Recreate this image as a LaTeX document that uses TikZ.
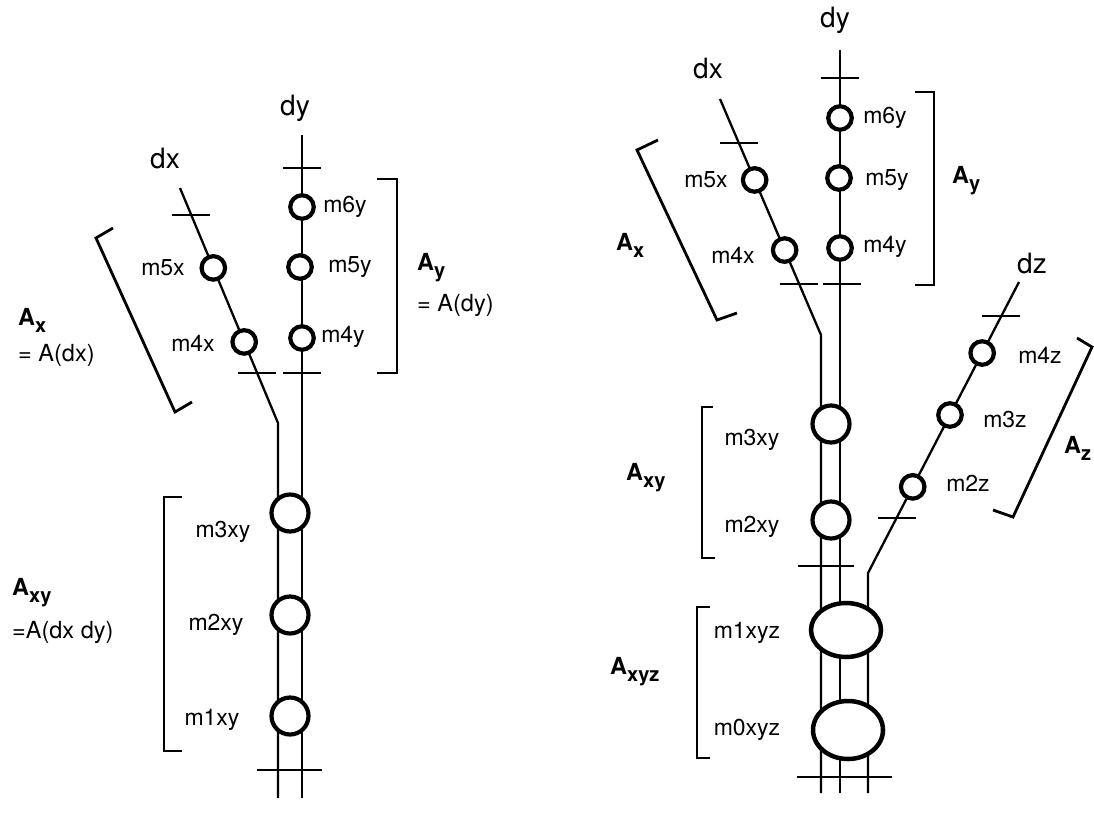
\documentclass[tikz,border=0pt]{standalone}
\usepackage{fontspec}
\setmainfont{TeX Gyre Heros}
\usetikzlibrary{shapes.geometric}
\newcommand\Asub[1]{\textbf{A}\raisebox{-7pt}{\fontsize{20}{21}\selectfont\bfseries #1}}
\begin{document}
\begin{tikzpicture}[x=1pt,y=-1pt,
  ln/.style={line width=2.3pt},
  tk/.style={line width=2pt},
  br/.style={line width=2.8pt},
  sm/.style={circle,draw,fill=white,line width=4.2pt,minimum size=23.5pt,inner sep=0pt},
  bg/.style={circle,draw,fill=white,line width=4.2pt,minimum size=37pt,inner sep=0pt},
  el/.style={ellipse,draw,fill=white,line width=4.5pt,minimum width=70pt,minimum height=54pt,inner sep=0pt},
  lab/.style={font=\fontsize{23}{25}\selectfont,inner sep=0pt},
  axl/.style={font=\fontsize{28}{30}\selectfont,inner sep=0pt},
  alab/.style={font=\fontsize{23.5}{25}\selectfont,inner sep=0pt,anchor=west},
]
\useasboundingbox (0,0) rectangle (1094,812);
\fill[white] (0,0) rectangle (1094,812);

% ================= LEFT =================
\coordinate (Ldxtop) at (180,188);
\coordinate (Ldxk) at (278,423);
\coordinate (Lxbot) at (278,798);
\coordinate (Ldytop) at (302,135);
\coordinate (Lybot) at (302,798);
\draw[ln] (Ldxtop) -- (Ldxk) -- (Lxbot);
\draw[ln] (Ldytop) -- (Lybot);
\path (Ldxtop) -- (Ldxk)
  coordinate[pos=0.115] (Ltx1)
  coordinate[pos=0.340] (Lc5x)
  coordinate[pos=0.655] (Lc4x)
  coordinate[pos=0.787] (Ltx2);
\coordinate (Lty1) at (302,168);
\coordinate (Lty2) at (302,373);
\foreach \p in {Ltx1,Ltx2,Lty1,Lty2}
  \draw[tk] ([xshift=-19pt]\p) -- ([xshift=19pt]\p);
\coordinate (Lbl) at (257,770);
\coordinate (Lbr) at (322,770);
\draw[tk] (Lbl) -- (Lbr);

\node[sm] (L6y) at (302,207) {};
\node[sm] (L5y) at (300,267) {};
\node[sm] (L4y) at (302,338) {};
\node[sm] (L5x) at (Lc5x) {};
\node[sm] (L4x) at (Lc4x) {};
\node[bg] (L3xy) at (290,513) {};
\node[bg] (L2xy) at (290,615) {};
\node[bg] (L1xy) at (290,716) {};

\node[axl] (Ldx) at (165,158) {dx};
\node[axl] (Ldy) at (295,108) {dy};
\node[lab] (Lt6y) at (345,207) {m6y};
\node[lab] (Lt5y) at (350,267) {m5y};
\node[lab] (Lt4y) at (343,337) {m4y};
\node[lab] (Lt5x) at (163,268) {m5x};
\node[lab] (Lt4x) at (193,343) {m4x};
\node[lab] (Lt3xy) at (223,532) {m3xy};
\node[lab] (Lt2xy) at (216,625) {m2xy};
\node[lab] (Lt1xy) at (212,720) {m1xy};

\draw[br] (377,179) -- (397,179) -- (397,373) -- (377,373);
\draw[br] (113,228) -- (96,238) -- (175,412) -- (192,402);
\draw[br] (182,497) -- (164,497) -- (164,751) -- (182,751);

\node[alab] (LAy) at (417,268) {\Asub{y}};
\node[alab] (LAyd) at (417,305) {= A(dy)};
\node[alab] (LAx) at (18,320) {\Asub{x}};
\node[alab] (LAxd) at (18,355) {= A(dx)};
\node[alab] (LAxy) at (12,593) {\Asub{xy}};
\node[alab] (LAxyd) at (12,632) {=A(dx dy)};

% ================= RIGHT =================
\coordinate (Rdxtop) at (720,99);
\coordinate (Rdxk) at (821,335);
\coordinate (Rxbot) at (821,793);
\coordinate (Rdytop) at (840,50);
\coordinate (Rybot) at (840,793);
\coordinate (Rdztop) at (1019,282);
\coordinate (Rdzk) at (868,573);
\coordinate (Rzbot) at (868,793);
\draw[ln] (Rdxtop) -- (Rdxk) -- (Rxbot);
\draw[ln] (Rdytop) -- (Rybot);
\draw[ln] (Rdztop) -- (Rdzk) -- (Rzbot);
\path (Rdxtop) -- (Rdxk)
  coordinate[pos=0.186] (Rtx1)
  coordinate[pos=0.343] (Rc5x)
  coordinate[pos=0.640] (Rc4x)
  coordinate[pos=0.784] (Rtx2);
\path (Rdztop) -- (Rdzk)
  coordinate[pos=0.117] (Rtz1)
  coordinate[pos=0.244] (Rc4z)
  coordinate[pos=0.457] (Rc3z)
  coordinate[pos=0.704] (Rc2z)
  coordinate[pos=0.811] (Rtz2);
\coordinate (Rty1) at (840,78);
\coordinate (Rty2) at (842,284);
\foreach \p in {Rtx1,Rtx2,Rty1,Rty2,Rtz1,Rtz2}
  \draw[tk] ([xshift=-19pt]\p) -- ([xshift=19pt]\p);
\coordinate (Rm1) at (798,566);
\coordinate (Rm2) at (854,566);
\draw[tk] (Rm1) -- (Rm2);
\coordinate (Rb1) at (797,777);
\coordinate (Rb2) at (892,777);
\draw[tk] (Rb1) -- (Rb2);

\node[sm] (R6y) at (840,118) {};
\node[sm] (R5y) at (839,178) {};
\node[sm] (R4y) at (840,248) {};
\node[sm] (R5x) at (Rc5x) {};
\node[sm] (R4x) at (Rc4x) {};
\node[sm] (R4z) at (Rc4z) {};
\node[sm] (R3z) at (Rc3z) {};
\node[sm] (R2z) at (Rc2z) {};
\node[bg] (R3xy) at (831,424) {};
\node[bg] (R2xy) at (831,520) {};
\node[el] (R1xyz) at (846,630) {};
\node[el,minimum height=58pt] (R0xyz) at (848,730) {};

\node[axl] (Rdy) at (835,20) {dy};
\node[axl] (Rdx) at (708,68) {dx};
\node[axl] (Rdz) at (1032,263) {dz};
\node[lab] (Rt6y) at (885,118) {m6y};
\node[lab] (Rt5y) at (887,180) {m5y};
\node[lab] (Rt4y) at (885,247) {m4y};
\node[lab] (Rt5x) at (706,180) {m5x};
\node[lab] (Rt4x) at (733,255) {m4x};
\node[lab] (Rt4z) at (1040,355) {m4z};
\node[lab] (Rt3z) at (1005,420) {m3z};
\node[lab] (Rt2z) at (968,483) {m2z};
\node[lab] (Rt3xy) at (752,440) {m3xy};
\node[lab] (Rt2xy) at (752,527) {m2xy};
\node[lab] (Rt1xyz) at (747,633) {m1xyz};
\node[lab] (Rt0xyz) at (747,730) {m0xyz};

\draw[br] (915,92) -- (934,92) -- (934,285) -- (915,285);
\draw[br] (658,140) -- (637,150) -- (717,320) -- (737,313);
\draw[br] (1077,338) -- (1092,347) -- (1013,517) -- (993,510);
\draw[br] (713,407) -- (702,407) -- (702,558) -- (715,558);
\draw[br] (710,607) -- (697,607) -- (697,758) -- (710,758);

\node[alab] (RAy) at (952,181) {\Asub{y}};
\node[alab] (RAx) at (616,245) {\Asub{x}};
\node[alab] (RAz) at (1064,448) {\Asub{z}};
\node[alab] (RAxy) at (626,478) {\Asub{xy}};
\node[alab] (RAxyz) at (610,672) {\Asub{xyz}};
\end{tikzpicture}
\end{document}
